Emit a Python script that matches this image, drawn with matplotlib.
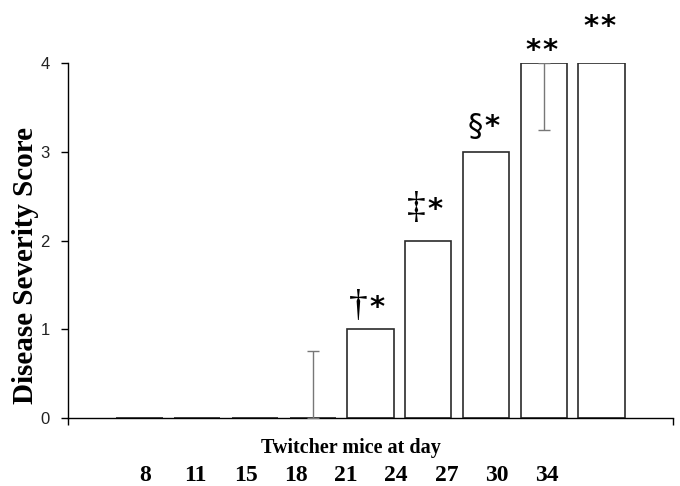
import matplotlib.pyplot as plt
import numpy as np

days = ['8', '11', '15', '18', '21', '24', '27', '30', '34']
score = np.array([0, 0, 0, 0, 1, 2, 3, 4, 4])
err_up = np.array([0, 0, 0, 0.75, 0, 0, 0, 0, 0])
err_down = np.array([0, 0, 0, 0, 0, 0, 0, 0.75, 0])
symbols = ['', '', '', '', '\u2020', '\u2021', '\u00a7', '*', '*']
stars = ['', '', '', '', '*', '*', '*', '*', '*']

fig = plt.figure(figsize=(6.8, 4.86), dpi=100)
ax = fig.add_axes([68/680, 1-418/486, 605/680, 355/486])

x = np.arange(len(days))
ax.bar(x, score, width=0.8, color='white', edgecolor='#2a2a2a', linewidth=1.2, zorder=2)

# error bars only where there is one
has_err = (err_up + err_down) > 0
ax.errorbar(x[has_err], score[has_err], yerr=[err_down[has_err], err_up[has_err]],
            fmt='none', ecolor='#777777', elinewidth=1, capsize=4, capthick=1, zorder=3)

# significance marks: symbol then asterisk, sitting above each bar
offs = [0, 0, 0, 0, 0.15, 0.25, 0.19, 0.05, 0.31]
sym_size = {'\u2020': 27, '\u2021': 27, '\u00a7': 22, '*': 21}
sym_font = {'\u2020': 'Liberation Serif', '\u2021': 'Liberation Serif',
            '\u00a7': 'DejaVu Sans', '*': 'DejaVu Sans'}
for i in range(len(days)):
    if not symbols[i]:
        continue
    xc = x[i] - 0.05
    yb = score[i] + offs[i]
    ax.text(xc, yb, symbols[i], ha='right', va='baseline', fontsize=sym_size[symbols[i]],
            family=sym_font[symbols[i]], clip_on=False,
            fontweight='bold' if symbols[i] == '*' else 'normal')
    ax.text(xc + 0.03, yb, stars[i], ha='left', va='baseline', fontsize=21,
            family='DejaVu Sans', fontweight='bold', clip_on=False)

ax.set_xlim(-1.24, 9.24)
ax.set_ylim(0, 4)
ax.set_yticks([0, 1, 2, 3, 4])
ax.set_xticks([-1.24, 9.24])
ax.set_xticklabels(['', ''])
ax.tick_params(axis='y', direction='out', length=5, width=1, labelsize=12, pad=8)
ax.tick_params(axis='x', direction='out', length=5, width=1)
for lab in ax.get_yticklabels():
    lab.set_family('Liberation Sans')
    lab.set_color('#222222')
ax.spines['top'].set_visible(False)
ax.spines['right'].set_visible(False)
ax.spines['left'].set_linewidth(1)
ax.spines['bottom'].set_linewidth(1)

fig.text(26/680, 1-266/486, 'Disease Severity Score', rotation=90, ha='center', va='center',
         family='Liberation Serif', fontweight='bold', fontsize=21)
fig.text(351/680, 1-448/486, 'Twitcher mice at day', ha='center', va='center',
         family='Liberation Serif', fontweight='bold', fontsize=14.5)

# day labels are a separate row, not aligned with the bars
lab_x = np.linspace(145, 547, len(days))
for lx, d in zip(lab_x, days):
    fig.text(lx/680, 1-475/486, d, ha='center', va='center',
             family='Liberation Serif', fontweight='bold', fontsize=17)

fig.savefig('out.png', dpi=100)
